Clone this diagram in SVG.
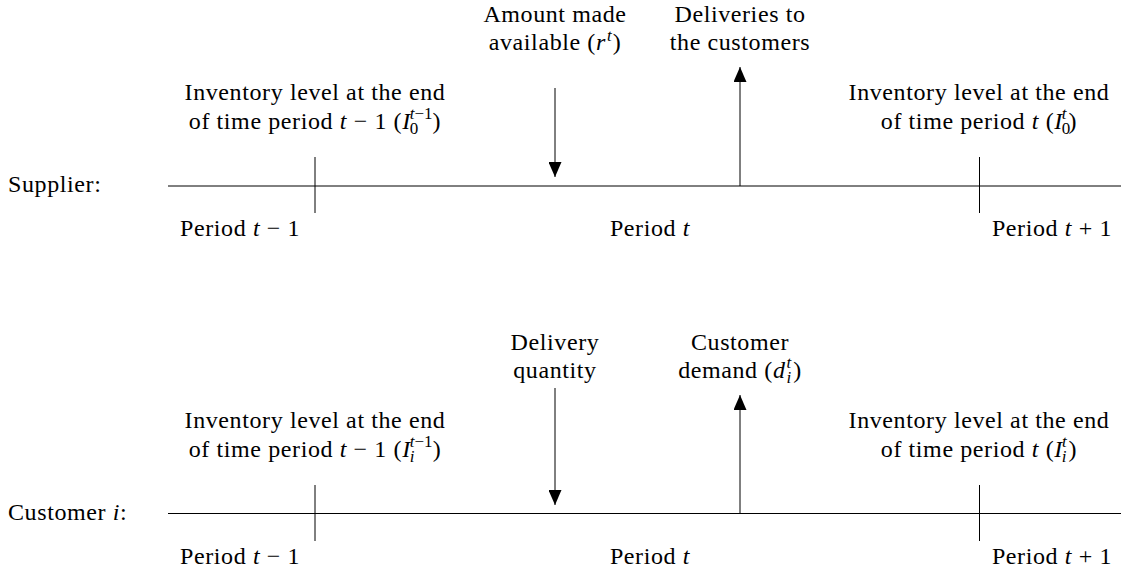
<svg xmlns="http://www.w3.org/2000/svg" width="1121" height="569" viewBox="0 0 1121 569">
<style>
text{font-family:"Liberation Serif","DejaVu Serif",serif;font-size:24px;letter-spacing:0.6px;fill:#000}
.c{text-anchor:middle}
.e{text-anchor:end}
.i{font-style:italic}
.s{font-size:17px;letter-spacing:0}
.ln{stroke:#000;stroke-width:1;fill:none}
</style>
<defs>
<marker id="ah" viewBox="0 0 15 13" refX="15" refY="6.5" markerWidth="15" markerHeight="13" markerUnits="userSpaceOnUse" orient="auto"><path d="M0,0 L15,6.5 L0,13 Z" fill="#000"/></marker>
</defs>
<rect width="1121" height="569" fill="#fff"/>
<g id="supplier">
<text x="8" y="192">Supplier:</text>
<line class="ln" x1="168" y1="186" x2="1121" y2="186"/>
<line class="ln" x1="315" y1="157" x2="315" y2="213"/>
<line class="ln" x1="979.5" y1="157" x2="979.5" y2="213"/>
<text x="180" y="236">Period <tspan class="i">t</tspan> − 1</text>
<text class="c" x="650" y="236">Period <tspan class="i">t</tspan></text>
<text class="e" x="1112" y="236">Period <tspan class="i">t</tspan> + 1</text>
</g>
<g id="sup-inv-prev">
<text class="c" x="315" y="100">Inventory level at the end</text>
<text class="c" x="315" y="129">of time period <tspan class="i">t</tspan> − 1 (<tspan class="i">I</tspan><tspan class="s" dx="-1" dy="5">0</tspan><tspan class="s i" dx="-8.5" dy="-15">t</tspan><tspan class="s">−1</tspan><tspan dy="10">)</tspan></text>
</g>
<g id="sup-inv-cur">
<text class="c" x="979" y="100">Inventory level at the end</text>
<text class="c" x="979" y="129">of time period <tspan class="i">t</tspan> (<tspan class="i">I</tspan><tspan class="s" dx="-1" dy="5">0</tspan><tspan class="s i" dx="-8.5" dy="-15">t</tspan><tspan dx="2" dy="10">)</tspan></text>
</g>
<g id="sup-amount">
<text class="c" x="555" y="22">Amount made</text>
<text class="c" x="555" y="50">available (<tspan class="i">r</tspan><tspan class="s i" dx="1" dy="-9">t</tspan><tspan dx="1" dy="9">)</tspan></text>
</g>
<g id="sup-deliveries">
<text class="c" x="740" y="22">Deliveries to</text>
<text class="c" x="740" y="50">the customers</text>
</g>
<g id="customer">
<text x="8" y="520">Customer <tspan class="i">i</tspan>:</text>
<line class="ln" x1="168" y1="513.5" x2="1121" y2="513.5"/>
<line class="ln" x1="315" y1="485" x2="315" y2="541"/>
<line class="ln" x1="979.5" y1="485" x2="979.5" y2="541"/>
<text x="180" y="564">Period <tspan class="i">t</tspan> − 1</text>
<text class="c" x="650" y="564">Period <tspan class="i">t</tspan></text>
<text class="e" x="1112" y="564">Period <tspan class="i">t</tspan> + 1</text>
</g>
<g id="cus-inv-prev">
<text class="c" x="315" y="428">Inventory level at the end</text>
<text class="c" x="315" y="457">of time period <tspan class="i">t</tspan> − 1 (<tspan class="i">I</tspan><tspan class="s i" dx="-1" dy="5">i</tspan><tspan class="s i" dx="-4.7" dy="-15">t</tspan><tspan class="s">−1</tspan><tspan dy="10">)</tspan></text>
</g>
<g id="cus-inv-cur">
<text class="c" x="979" y="428">Inventory level at the end</text>
<text class="c" x="979" y="457">of time period <tspan class="i">t</tspan> (<tspan class="i">I</tspan><tspan class="s i" dx="-1" dy="5">i</tspan><tspan class="s i" dx="-4.7" dy="-15">t</tspan><tspan dx="2" dy="10">)</tspan></text>
</g>
<g id="cus-delivery">
<text class="c" x="555" y="350">Delivery</text>
<text class="c" x="555" y="378">quantity</text>
</g>
<g id="cus-demand">
<text class="c" x="740" y="350">Customer</text>
<text class="c" x="740" y="378">demand (<tspan class="i">d</tspan><tspan class="s i" dx="1" dy="5">i</tspan><tspan class="s i" dx="-4.7" dy="-15">t</tspan><tspan dx="2" dy="10">)</tspan></text>
</g>
<g id="connectors">
<line class="ln" x1="555" y1="88" x2="555" y2="177" marker-end="url(#ah)"/>
<line class="ln" x1="740" y1="186" x2="740" y2="67" marker-end="url(#ah)"/>
<line class="ln" x1="555" y1="388" x2="555" y2="505" marker-end="url(#ah)"/>
<line class="ln" x1="740" y1="513.5" x2="740" y2="395" marker-end="url(#ah)"/>
</g>
</svg>
